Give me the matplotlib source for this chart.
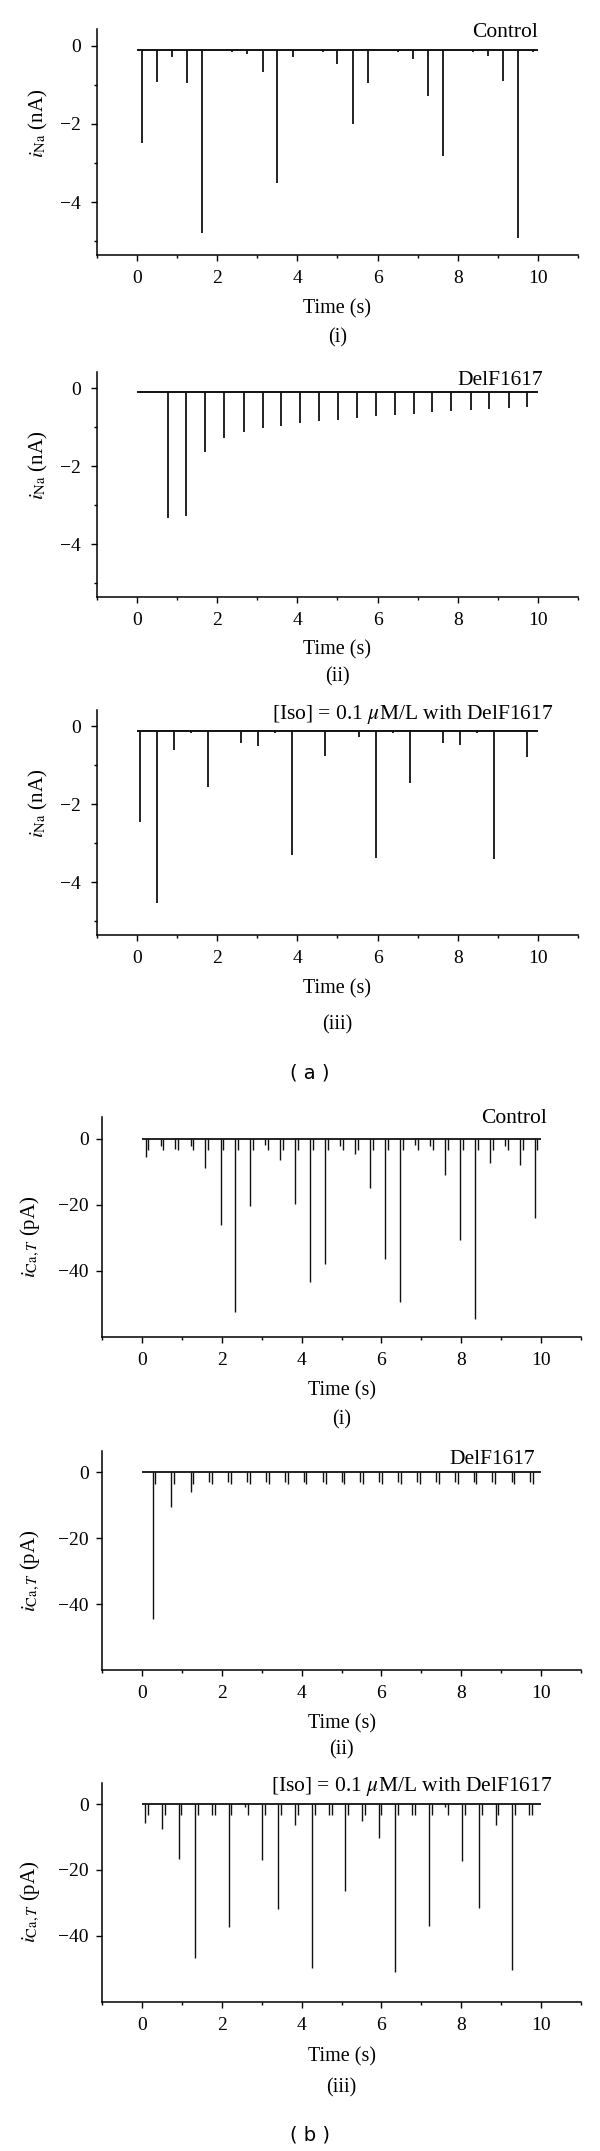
import matplotlib
matplotlib.use("Agg")
import matplotlib.pyplot as plt
from matplotlib.ticker import MultipleLocator
from matplotlib.transforms import blended_transform_factory

plt.rcParams["font.family"] = "serif"
plt.rcParams["font.serif"] = ["Liberation Serif", "DejaVu Serif"]
plt.rcParams["mathtext.fontset"] = "stix"

# --- (a) sodium current, nA ---
na_base = -0.11

na_ctrl_t = [0.13, 0.50, 0.88, 1.25, 1.63, 2.38, 2.75, 3.13, 3.50, 3.88, 4.63, 5.00, 5.38,
             5.75, 6.50, 6.88, 7.25, 7.63, 8.38, 8.75, 9.13, 9.50, 9.88]
na_ctrl_v = [-2.48, -0.93, -0.30, -0.95, -4.80, -0.16, -0.22, -0.68, -3.50, -0.28, -0.16, -0.46, -2.01,
             -0.95, -0.16, -0.33, -1.29, -2.81, -0.16, -0.25, -0.89, -4.91, -0.16]

na_del_t = [0.77, 1.23, 1.70, 2.18, 2.66, 3.13, 3.60, 4.07, 4.55, 5.02, 5.49, 5.96, 6.43,
            6.90, 7.37, 7.84, 8.32, 8.79, 9.27, 9.74]
na_del_v = [-3.32, -3.28, -1.65, -1.28, -1.12, -1.03, -0.97, -0.90, -0.85, -0.82, -0.77, -0.72, -0.69,
            -0.66, -0.62, -0.59, -0.56, -0.54, -0.51, -0.49]

na_iso_t = [0.08, 0.50, 0.92, 1.34, 1.76, 2.60, 3.02, 3.44, 3.86, 4.70, 5.54, 5.96, 6.38,
            6.80, 7.64, 8.06, 8.48, 8.90, 9.74]
na_iso_v = [-2.46, -4.53, -0.60, -0.16, -1.56, -0.42, -0.51, -0.16, -3.29, -0.77, -0.26, -3.38, -0.16,
            -1.46, -0.42, -0.49, -0.16, -3.41, -0.79]

# --- (b) T-type calcium current, pA ---
ca_pair_gap = 0.07     # second small dip after each event
ca_pair_depth = -3.4

ca_ctrl_t = [0.09, 0.47, 0.84, 1.22, 1.59, 1.97, 2.34, 2.72, 3.09, 3.47, 3.84, 4.22, 4.59, 4.97,
             5.34, 5.72, 6.09, 6.47, 6.84, 7.22, 7.59, 7.97, 8.34, 8.72, 9.09, 9.47, 9.84]
ca_ctrl_v = [-5.5, -2.3, -3.0, -2.3, -9.0, -26.1, -52.4, -20.5, -1.8, -6.3, -19.7, -43.5, -38.0, -2.1,
             -4.5, -14.8, -36.5, -49.4, -1.8, -2.2, -11.0, -30.6, -54.6, -7.3, -2.1, -8.1, -24.0]

ca_del_t = [0.27, 0.74, 1.22, 1.69, 2.16, 2.64, 3.11, 3.58, 4.05, 4.53, 5.00, 5.47, 5.95, 6.42,
            6.89, 7.37, 7.84, 8.31, 8.78, 9.26, 9.73]
ca_del_v = [-44.4, -10.4, -5.9, -3.0, -3.0, -3.0, -3.0, -3.0, -3.0, -3.0, -3.0, -3.0, -3.0, -3.0,
            -3.0, -3.0, -3.0, -3.0, -3.0, -3.0, -3.0]

ca_iso_t = [0.08, 0.50, 0.92, 1.33, 1.75, 2.17, 2.59, 3.01, 3.42, 3.84, 4.26, 4.68, 5.10, 5.51,
            5.93, 6.35, 6.77, 7.19, 7.60, 8.02, 8.44, 8.86, 9.28, 9.69]
ca_iso_v = [-5.7, -7.6, -16.6, -46.6, -3.4, -37.3, -1.0, -17.0, -32.0, -6.2, -49.9, -3.4, -26.4, -5.0,
            -10.4, -50.9, -3.4, -37.1, -1.0, -17.2, -31.4, -6.3, -50.4, -3.4]

W, H = 600, 2151
fig = plt.figure(figsize=(W / 100, H / 100), dpi=100)


def add_axes(left, right, top, bottom):
    return fig.add_axes([left / W, 1 - bottom / H, (right - left) / W, (bottom - top) / H])


def style(ax, ylim, yticks, yminor, ylabel, label_x, label_y, ypad):
    ax.set_xlim(-1, 11)
    ax.set_ylim(*ylim)
    ax.spines["top"].set_visible(False)
    ax.spines["right"].set_visible(False)
    for s in ["left", "bottom"]:
        ax.spines[s].set_linewidth(1.1)
    ax.xaxis.set_minor_locator(MultipleLocator(1))
    ax.set_xticks([0, 2, 4, 6, 8, 10])
    ax.set_yticks(yticks)
    ax.set_yticklabels(["0" if v == 0 else "\u2212%d" % abs(v) for v in yticks])
    if yminor:
        ax.set_yticks(yminor, minor=True)
    ax.tick_params(which="major", direction="out", length=4.5, width=1.0, labelsize=14)
    ax.tick_params(which="minor", direction="out", length=2.5, width=1.0)
    ax.tick_params(axis="x", pad=6.5)
    ax.tick_params(axis="y", pad=ypad)
    ax.set_ylabel(ylabel, fontsize=15)
    ax.yaxis.set_label_coords(label_x, label_y)


def caption(ax, ypx, text, size=14.5):
    tr = blended_transform_factory(ax.transData, fig.transFigure)
    ax.text(5, 1 - ypx / H, text, transform=tr, ha="center", va="center", fontsize=size)


# ---------- (a) ----------
na_ylim = (-5.35, 0.42)
na_label = r"$i_{\mathrm{Na}}$ (nA)"
na_panels = [
    (29.3, 255, na_ctrl_t, na_ctrl_v, "Control", 10.0, 0.23, 309, 338, "(i)"),
    (371.7, 596.7, na_del_t, na_del_v, "DelF1617", 10.12, 0.09, 650, 677, "(ii)"),
    (710, 935, na_iso_t, na_iso_v, r"[Iso] = 0.1 $\mu$M/L with DelF1617", 10.38, 0.19, 989, 1025, "(iii)"),
]
for top, bot, t, v, tag, tx, ty, time_y, cap_y, cap in na_panels:
    ax = add_axes(97, 578, top, bot)
    ax.hlines(na_base, 0, 10, color="#111111", lw=1.4)
    ax.vlines(t, na_base, v, color="#111111", lw=1.3)
    style(ax, na_ylim, [0, -2, -4], [-1, -3, -5], na_label, -0.098, 0.585, 7.2)
    ax.text(tx, ty, tag, ha="right", va="baseline", fontsize=15.5)
    caption(ax, time_y, "Time (s)")
    caption(ax, cap_y, cap)

fig.text(310 / W, 1 - 1073 / H, "( a )", ha="center", va="center", fontsize=14, family="DejaVu Sans")

# ---------- (b) ----------
ca_ylim = (-60, 6.5)
ca_label = r"$i_{\mathrm{Ca},T}$ (pA)"
ca_panels = [
    (1117.3, 1336.7, ca_ctrl_t, ca_ctrl_v, "Control", 10.14, 4.7, 1391, 1420, "(i)"),
    (1451, 1670, ca_del_t, ca_del_v, "DelF1617", 9.84, 2.7, 1724, 1750, "(ii)"),
    (1782.7, 2001.7, ca_iso_t, ca_iso_v, r"[Iso] = 0.1 $\mu$M/L with DelF1617", 10.29, 4.0, 2057, 2088, "(iii)"),
]
for top, bot, t, v, tag, tx, ty, time_y, cap_y, cap in ca_panels:
    ax = add_axes(102, 581, top, bot)
    ax.hlines(0, 0, 10, color="#111111", lw=1.3)
    ax.vlines(t, 0, v, color="#111111", lw=1.0)
    ax.vlines([x + ca_pair_gap for x in t], 0, ca_pair_depth, color="#111111", lw=1.0)
    style(ax, ca_ylim, [0, -20, -40], None, ca_label, -0.125, 0.455, 5.2)
    ax.text(tx, ty, tag, ha="right", va="baseline", fontsize=15.5)
    caption(ax, time_y, "Time (s)")
    caption(ax, cap_y, cap)

fig.text(310 / W, 1 - 2135 / H, "( b )", ha="center", va="center", fontsize=14, family="DejaVu Sans")

fig.savefig("out.png", dpi=100)
